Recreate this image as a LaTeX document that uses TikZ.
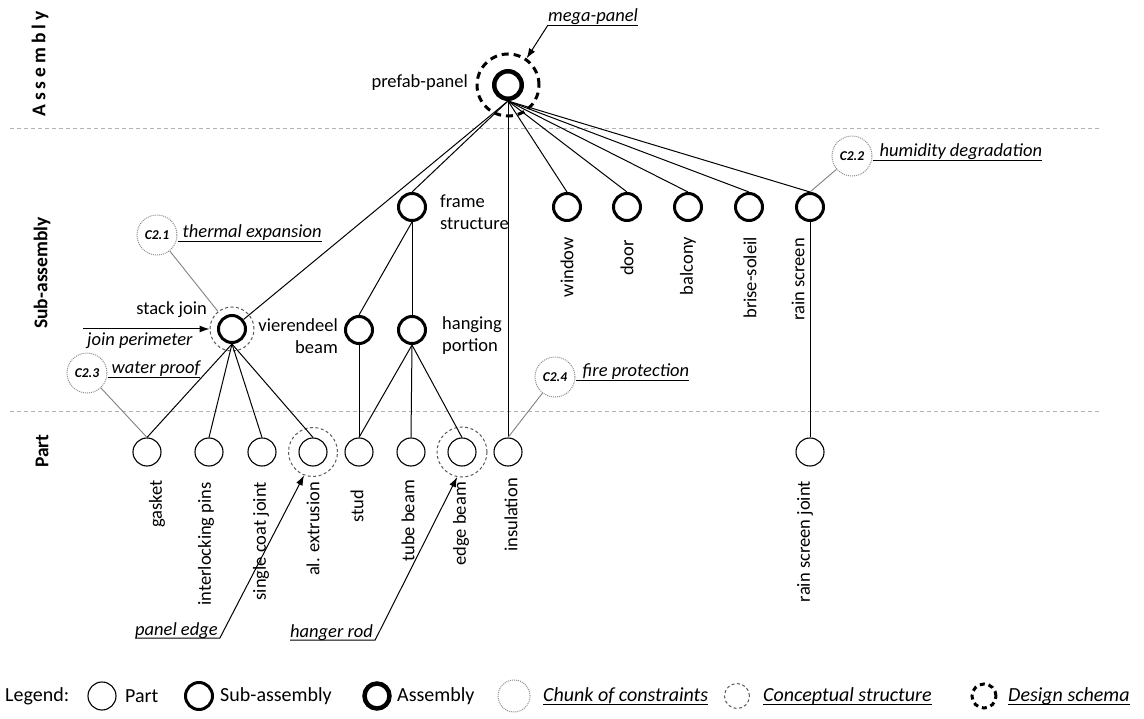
\documentclass[tikz,border=0pt]{standalone}
\usepackage{fontspec}
\setmainfont{Carlito}
\usetikzlibrary{arrows.meta,calc}
\newcommand\labfont{\fontsize{18.5}{22}\selectfont}
\newcommand\headfont{\fontsize{19.5}{22}\selectfont\bfseries}
\newcommand\legfont{\fontsize{20}{24}\selectfont}
\newcommand\tagfont{\fontsize{13.5}{14}\selectfont\bfseries\itshape}
\begin{document}
\begin{tikzpicture}[x=1pt,y=-1pt,
  part/.style={circle,draw,line width=1.1pt,minimum size=28pt,inner sep=0pt},
  sub/.style={circle,draw,line width=3pt,minimum size=27pt,inner sep=0pt},
  asm/.style={circle,draw,line width=4.5pt,minimum size=27.5pt,inner sep=0pt},
  chunk/.style={circle,draw=black!45,densely dotted,line width=1pt,minimum size=40pt,inner sep=0pt,font=\tagfont},
  concept/.style={circle,draw=black!65,dash pattern=on 3pt off 2.5pt,line width=1pt,inner sep=0pt},
  schema/.style={circle,draw,line width=3pt,dash pattern=on 7pt off 5pt,inner sep=0pt},
  link/.style={line width=1pt},
  clink/.style={draw=black!50,line width=0.9pt},
  level/.style={draw=black!30,dash pattern=on 4pt off 3pt,line width=0.9pt},
  lab/.style={inner sep=0pt,font=\labfont},
  vlab/.style={lab,rotate=90,anchor=east},
  note/.style={inner sep=0pt,font=\labfont\itshape},
  leg/.style={inner sep=0pt,font=\legfont,anchor=west},
  arr/.style={line width=1pt,-{Latex[length=10pt,width=7pt]}},
  head/.style={inner sep=0pt,font=\headfont,rotate=90}]
\useasboundingbox (0,0) rectangle (1144,719);

% level separators and level names
\coordinate (s1a) at (10,128); \coordinate (s1b) at (1100,128);
\coordinate (s2a) at (10,411); \coordinate (s2b) at (1100,411);
\draw[level] (s1a) -- (s1b);
\draw[level] (s2a) -- (s2b);
\node[head] (hA) at (40,64) {\addfontfeature{LetterSpace=20}Assembly};
\node[head] (hS) at (42,273) {Sub-assembly};
\node[head] (hP) at (42,451) {Part};

% assembly
\node[asm] (asm) at (508,85) {};
\node[schema,minimum size=62pt] (mega) at (508,85) {};
\node[lab,anchor=base east] (tasm) at (468,88) {prefab-panel};

% sub-assemblies
\node[sub] (frame) at (412,207) {};
\node[sub] (win) at (567,207) {};
\node[sub] (door) at (627,207) {};
\node[sub] (balc) at (688,207) {};
\node[sub] (brise) at (749,207) {};
\node[sub] (rain) at (810,207) {};
\node[sub] (stack) at (232,329) {};
\node[concept,minimum size=44pt] (stackd) at (232,329) {};
\node[sub] (vier) at (359,330) {};
\node[sub] (hang) at (412,330) {};

\node[lab,align=left,anchor=west] (tframe) at (440,212) {frame\\structure};
\node[lab,align=left,anchor=west] (thang) at (442,336) {hanging\\portion};
\node[lab,align=right,anchor=east] (tvier) at (338,336) {vierendeel\\beam};
\node[lab,anchor=base east] (tstack) at (207,315) {stack join};
\node[vlab] (twin) at (567,237) {window};
\node[vlab] (tdoor) at (627,240) {door};
\node[vlab] (tbalc) at (688,237) {balcony};
\node[vlab] (tbrise) at (750,237) {brise-soleil};
\node[vlab] (train) at (798,238) {rain screen};

% parts
\node[part] (gasket) at (147,452) {};
\node[part] (pins) at (209,452) {};
\node[part] (coat) at (262,452) {};
\node[part] (alx) at (313,452) {};
\node[concept,minimum size=49pt] (alxd) at (313,452) {};
\node[part] (stud) at (359,452) {};
\node[part] (tube) at (411,452) {};
\node[part] (edge) at (462,452) {};
\node[concept,minimum size=50pt] (edged) at (462,452) {};
\node[part] (ins) at (508,452) {};
\node[part] (rsj) at (810,452) {};

\node[vlab] (tgasket) at (157,480) {gasket};
\node[vlab] (tpins) at (206,482) {interlocking pins};
\node[vlab] (tcoat) at (261,482) {single coat joint};
\node[vlab] (talx) at (313,482) {al. extrusion};
\node[vlab] (tstud) at (357,490) {stud};
\node[vlab] (ttube) at (408,480) {tube beam};
\node[vlab] (tedge) at (461,482) {edge beam};
\node[vlab] (tins) at (511,478) {insulation};
\node[vlab] (trsj) at (805,481) {rain screen joint};

% composition links
\draw[link] (asm.south) -- (stack);
\draw[link] (asm.south) -- (frame.north);
\draw[link] (asm.south) -- (ins.north);
\draw[link] (asm.south) -- (win.north);
\draw[link] (asm.south) -- (door.north);
\draw[link] (asm.south) -- (balc.north);
\draw[link] (asm.south) -- (brise.north);
\draw[link] (asm.south) -- (rain.north);
\draw[link] (frame.south) -- (vier.north);
\draw[link] (frame.south) -- (hang.north);
\draw[link] (stack.south) -- (gasket.north);
\draw[link] (stack.south) -- (pins.north);
\draw[link] (stack.south) -- (coat.north);
\draw[link] (stack.south) -- (alx.north);
\draw[link] (vier.south) -- (stud.north);
\draw[link] (hang.south) -- (stud.north);
\draw[link] (hang.south) -- (tube.north);
\draw[link] (hang.south) -- (edge.north);
\draw[link] (rain.south) -- (rsj.north);

% chunks of constraints
\node[chunk] (c21) at (157,235) {C2.1};
\node[chunk] (c22) at (852,156) {C2.2};
\node[chunk] (c23) at (87,373) {C2.3};
\node[chunk] (c24) at (555,377) {C2.4};
\node[note,anchor=base west] (t21) at ($(c21.east)+(5,3)$) {thermal expansion};
\node[note,anchor=base west] (t22) at ($(c22.east)+(7,1)$) {humidity degradation};
\node[note,anchor=base west] (t23) at ($(c23.east)+(4,1)$) {water proof};
\node[note,anchor=base west] (t24) at ($(c24.east)+(7,0)$) {fire protection};
\foreach \c in {21,22,23,24}{
  \coordinate (u\c) at (c\c.east |- t\c.base);
  \draw[line width=0.9pt] ([yshift=-3pt]u\c) -- ([yshift=-3pt]t\c.base east);
}
\draw[clink] (c21) -- (stackd);
\draw[clink] (c22) -- (rain.north);
\draw[clink] (c23) -- (gasket.north);
\draw[clink] (c24) -- (ins.north);

% design schemas and conceptual structures
\node[note,anchor=base west] (tmega) at (548,22) {mega-panel};
\draw[line width=0.9pt] ([yshift=-3pt]tmega.base west) -- ([yshift=-3pt]tmega.base east);
\draw[arr] ([yshift=-3pt]tmega.base west) -- (mega.55);

\coordinate (jp) at (83,329);
\draw[arr] (jp) -- (stackd.west);
\node[note,anchor=base west] (tjp) at (87,346) {join perimeter};

\node[note,anchor=base west] (tpe) at (135,635) {panel edge};
\draw[arr] ([yshift=-3pt]tpe.base west) -- ([yshift=-3pt,xshift=2pt]tpe.base east) -- (alxd.249);

\node[note,anchor=base west] (thr) at (290,637) {hanger rod};
\draw[arr] ([yshift=-3pt]thr.base west) -- ([yshift=-3pt,xshift=2pt]thr.base east) -- (edged.259);

% legend
\node[leg] (lg) at (5,696) {Legend:};
\node[part] (lpart) at (102,696) {};
\node[leg] (lpt) at (125,696) {Part};
\node[sub] (lsub) at (199,696) {};
\node[leg] (lst) at (220,696) {Sub-assembly};
\node[asm,minimum size=25pt] (lasm) at (377,696) {};
\node[leg] (lat) at (397,696) {Assembly};
\node[chunk,minimum size=32pt] (lchunk) at (514,696) {};
\node[leg,font=\legfont\itshape] (lct) at (543,696) {Chunk of constraints};
\node[concept,minimum size=25pt] (lcon) at (737,696) {};
\node[leg,font=\legfont\itshape] (lcot) at (763,696) {Conceptual structure};
\node[schema,minimum size=24pt,dash pattern=on 5pt off 4pt] (lsch) at (984,696) {};
\node[leg,font=\legfont\itshape] (lsct) at (1008,696) {Design schema};
\foreach \t in {lct,lcot,lsct}{
  \draw[line width=0.9pt] ([yshift=-3pt]\t.base west) -- ([yshift=-3pt]\t.base east);
}
\end{tikzpicture}
\end{document}
